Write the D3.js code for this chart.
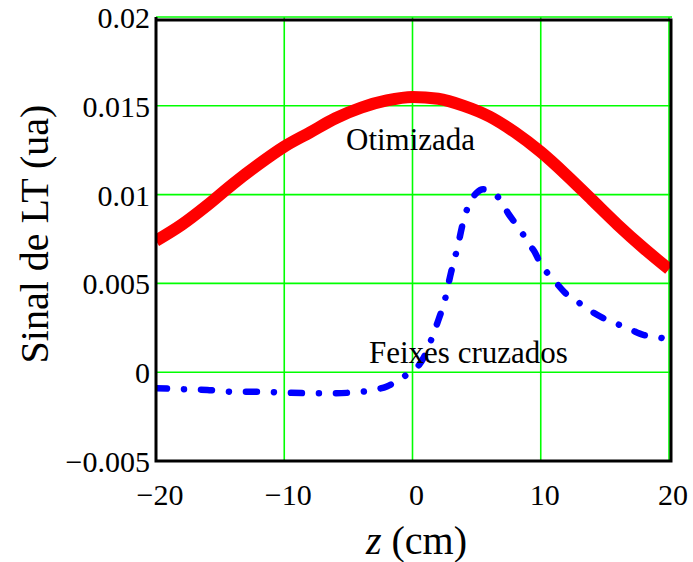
<!DOCTYPE html>
<html>
<head>
<meta charset="utf-8">
<script src="https://cdn.jsdelivr.net/npm/d3@7"></script>
<style>
  html, body { margin: 0; padding: 0; background: #fff; }
  svg { display: block; }
  text { font-family: "Liberation Serif", "Times New Roman", serif; fill: #000; }
</style>
</head>
<body>
<script>
// Position along the beam, z (cm)
const zOtim = [-20, -18, -16, -14, -12, -10, -8, -6, -4, -2, 0, 2, 4, 6, 8, 10, 12, 14, 16, 18, 20];
// Thermal lens signal, optimized configuration (a.u.)
const sinalOtim = [0.0074, 0.0083, 0.0094, 0.0106, 0.0117, 0.0127, 0.0135, 0.0143, 0.0149, 0.0153, 0.0155,
                   0.0154, 0.0150, 0.0144, 0.0135, 0.0124, 0.0111, 0.0097, 0.0083, 0.0070, 0.0058];

// Thermal lens signal, crossed beams (a.u.)
const zCruz = [-20, -18, -16, -14, -12, -10, -8, -6, -4, -3, -2, -1, 0, 0.5, 1, 1.5, 2, 2.5, 3, 3.5, 4, 4.5,
               5, 5.5, 6, 6.5, 7, 7.5, 8, 8.5, 9, 9.5, 10, 10.5, 11, 12, 13, 14, 15, 16, 17, 18, 19, 20];
const sinalCruz = [-0.0009, -0.00095, -0.0010, -0.0011, -0.0011, -0.00115, -0.00118, -0.00118, -0.0011, -0.0010,
                   -0.0008, -0.0004, 0.0001, 0.0004, 0.0010, 0.0019, 0.0029, 0.0040, 0.0056, 0.0070, 0.0086, 0.0096,
                   0.0101, 0.0103, 0.0102, 0.0100, 0.0095, 0.0089, 0.0084, 0.0079, 0.0073, 0.0068, 0.0061, 0.0056,
                   0.0052, 0.0044, 0.0039, 0.0034, 0.0030, 0.0027, 0.0024, 0.0021, 0.0020, 0.0018];

const xTicks = [-20, -10, 0, 10, 20];
const yTicks = [-0.005, 0, 0.005, 0.01, 0.015, 0.02];
const yTickLabels = ["\u22120.005", "0", "0.005", "0.01", "0.015", "0.02"];
const xTickLabels = ["\u221220", "\u221210", "0", "10", "20"];

const W = 693, H = 562;
const x = d3.scaleLinear().domain([-20, 20]).range([156, 669]);
const y = d3.scaleLinear().domain([-0.005, 0.02]).range([461, 17]);

const svg = d3.select("body").append("svg").attr("width", W).attr("height", H);

// grid
const grid = svg.append("g");
grid.selectAll("line.gx").data(xTicks).join("line")
  .attr("x1", d => x(d)).attr("x2", d => x(d))
  .attr("y1", y.range()[1]).attr("y2", y.range()[0])
  .attr("stroke", "#00ff00").attr("stroke-width", 1.6);
grid.selectAll("line.gy").data(yTicks).join("line")
  .attr("x1", x.range()[0]).attr("x2", x.range()[1] + 3)
  .attr("y1", d => y(d)).attr("y2", d => y(d))
  .attr("stroke", "#00ff00").attr("stroke-width", 1.6);

// clip to plot box
svg.append("clipPath").attr("id", "plotclip").append("rect")
  .attr("x", x.range()[0]).attr("y", y.range()[1])
  .attr("width", x.range()[1] - x.range()[0] + 2)
  .attr("height", y.range()[0] - y.range()[1]);

const line = d3.line().curve(d3.curveMonotoneX);

svg.append("path")
  .attr("clip-path", "url(#plotclip)")
  .attr("d", line(zOtim.map((z, i) => [x(z), y(sinalOtim[i])])))
  .attr("fill", "none").attr("stroke", "#ff0000")
  .attr("stroke-width", 12).attr("stroke-linejoin", "round");

svg.append("path")
  .attr("clip-path", "url(#plotclip)")
  .attr("d", line(zCruz.map((z, i) => [x(z), y(sinalCruz[i])])))
  .attr("fill", "none").attr("stroke", "#0000ff")
  .attr("stroke-width", 6.5).attr("stroke-linecap", "round")
  .attr("stroke-dasharray", "11 17 0.01 17");

// frame
const fx0 = x.range()[0], fx1 = x.range()[1] + 2, fy0 = y.range()[1] + 3, fy1 = y.range()[0];
const frame = svg.append("g").attr("stroke", "#000").attr("stroke-width", 3).attr("fill", "none");
frame.append("path").attr("d", `M${fx0},${fy0 - 1.5}V${fy1}H${fx1}V${fy0}H${fx0}`)
  .attr("stroke-linejoin", "miter").attr("stroke-linecap", "square");

// tick labels
svg.selectAll("text.yt").data(yTicks).join("text")
  .attr("x", x.range()[0] - 6).attr("y", d => y(d) + 11)
  .attr("text-anchor", "end").attr("font-size", 30)
  .text((d, i) => yTickLabels[i]);
svg.selectAll("text.xt").data(xTicks).join("text")
  .attr("x", d => x(d) + 4).attr("y", y.range()[0] + 44)
  .attr("text-anchor", "middle").attr("font-size", 30)
  .text((d, i) => xTickLabels[i]);

// axis titles
const xt = svg.append("text").attr("x", x(0) + 4).attr("y", 554)
  .attr("text-anchor", "middle").attr("font-size", 40);
xt.append("tspan").attr("font-style", "italic").text("z");
xt.append("tspan").text(" (cm)");

svg.append("text")
  .attr("transform", `translate(48,${(y.range()[0] + y.range()[1]) / 2 - 5}) rotate(-90)`)
  .attr("text-anchor", "middle").attr("font-size", 40)
  .text("Sinal de LT (ua)");

// curve annotations
svg.append("text").attr("x", 346).attr("y", 150).attr("font-size", 31).text("Otimizada");
svg.append("text").attr("x", 369).attr("y", 363).attr("font-size", 31).text("Feixes cruzados");
</script>
</body>
</html>
